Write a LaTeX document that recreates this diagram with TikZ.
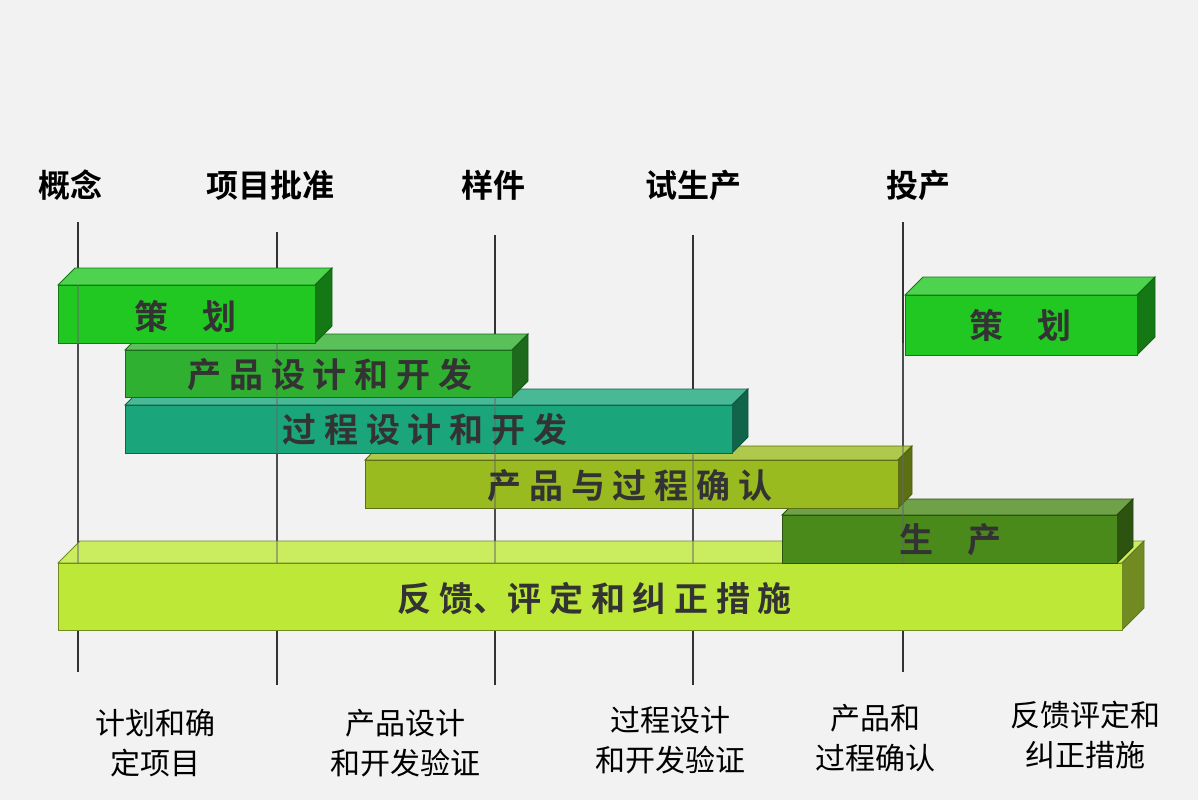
\documentclass[tikz,border=0pt]{standalone}
\usepackage{fontspec}
\newfontfamily\cjk{Noto Sans CJK SC}
\newfontfamily\cjkb{Noto Sans CJK SC Bold}
\begin{document}
\begin{tikzpicture}[x=0.5pt,y=-0.5pt,
  top/.style={font=\cjkb\fontsize{16}{16}\selectfont},
  bot/.style={font=\cjk\fontsize{15}{20}\selectfont,align=center},
  bar/.style={font=\cjkb\fontsize{17}{17}\selectfont,text=black!80}]
\fill[black!5] (0,0) rectangle (1198,800);
\useasboundingbox (0,0) rectangle (1198,800);
% box: x1,y1,x2,y2,depth,color
\newcommand\mybox[6]{%
  \fill[#6!80!white,draw=#6!60!black,line width=0.4pt] (#1,#2) -- ++(#5,-#5) -- (#3+#5,#2-#5) -- (#3,#2) -- cycle;
  \fill[#6!60!black,draw=#6!50!black,line width=0.4pt] (#3,#2) -- (#3+#5,#2-#5) -- (#3+#5,#4-#5) -- (#3,#4) -- cycle;
  \fill[#6,draw=#6!60!black,line width=0.4pt] (#1,#2) rectangle (#3,#4);}
\definecolor{cA}{HTML}{22C822}
\definecolor{cB}{HTML}{30B030}
\definecolor{cC}{HTML}{1AA67A}
\definecolor{cD}{HTML}{9ABB20}
\definecolor{cE}{HTML}{4A8A1A}
\definecolor{cF}{HTML}{BDE838}
\foreach \x/\a/\b in {78/222/672,277/232/685,495/235/685,693/235/685,903/222/672}
  \draw[black!80,line width=0.8pt] (\x,\a) -- (\x,\b);
\mybox{58}{563}{1122}{630}{22}{cF}
\mybox{782}{515}{1117}{563}{16}{cE}
\mybox{365}{460}{898}{508}{14}{cD}
\mybox{125}{405}{732}{453}{16}{cC}
\mybox{125}{350}{512}{397}{16}{cB}
\mybox{58}{285}{315}{343}{17}{cA}
\mybox{905}{295}{1137}{355}{18}{cA}
\foreach \x/\a/\b in {78/285/563,277/343/563,495/397/563,693/453/563,903/343/563}
  \draw[black!60,line width=0.6pt,opacity=0.5] (\x,\a) -- (\x,\b);
\node[bar] (p1) at (185,316) {策\quad 划};
\node[bar] (p2) at (1020,325) {策\quad 划};
\node[bar] (d1) at (330,375) {产 品 设 计 和 开 发};
\node[bar] (d2) at (425,430) {过 程 设 计 和 开 发};
\node[bar] (v) at (630,486) {产 品 与 过 程 确 认};
\node[bar] (s) at (950,540) {生\quad 产};
\node[bar] (f) at (595,598) {反 馈、评 定 和 纠 正 措 施};
\node[top] (t1) at (70,185) {概念};
\node[top] (t2) at (270,185) {项目批准};
\node[top] (t3) at (493,185) {样件};
\node[top] (t4) at (693,185) {试生产};
\node[top] (t5) at (918,185) {投产};
\node[bot] (b1) at (155,743) {计划和确\\定项目};
\node[bot] (b2) at (405,743) {产品设计\\和开发验证};
\node[bot] (b3) at (670,740) {过程设计\\和开发验证};
\node[bot] (b4) at (875,738) {产品和\\过程确认};
\node[bot] (b5) at (1085,735) {反馈评定和\\纠正措施};
\end{tikzpicture}
\end{document}
